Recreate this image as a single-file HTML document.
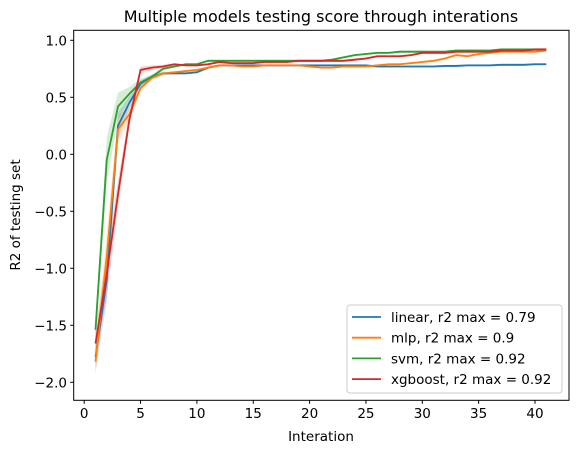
<!DOCTYPE html>
<html><head><meta charset="utf-8"><style>
body{margin:0;background:#fff}
svg text{font-family:"DejaVu Sans","Liberation Sans",sans-serif;fill:#000}
</style></head><body>
<svg width="579" height="453" xmlns="http://www.w3.org/2000/svg">
<text x="321" y="22" text-anchor="middle" font-size="16">Multiple models testing score through interations</text>
<g id="plot"></g>
<rect x="73.7" y="30.3" width="495.3" height="370" fill="none" stroke="#000" stroke-width="1"/>
<g id="xt"></g><g id="yt"></g>
<text x="321" y="441" text-anchor="middle" font-size="13.5">Interation</text>
<text transform="translate(20,215) rotate(-90)" text-anchor="middle" font-size="13.5">R2 of testing set</text>
<g id="legend">
<rect x="347" y="305" width="215" height="88" rx="3" fill="#fff" fill-opacity="0.8" stroke="#ccc"/>
</g>
</svg>
<script>
const xs=[1,2,3,4,5,6,7,8,9,10,11,12,13,14,15,16,17,18,19,20,21,22,23,24,25,26,27,28,29,30,31,32,33,34,35,36,37,38,39,40,41];
const linear=[-1.78,-1.1,0.25,0.45,0.62,0.68,0.71,0.71,0.71,0.72,0.76,0.78,0.78,0.78,0.78,0.78,0.78,0.78,0.78,0.78,0.78,0.78,0.78,0.78,0.78,0.77,0.77,0.77,0.77,0.77,0.77,0.775,0.775,0.78,0.78,0.78,0.785,0.785,0.785,0.79,0.79];
const mlp=[-1.82,-0.9,0.22,0.35,0.58,0.67,0.71,0.72,0.73,0.74,0.76,0.78,0.78,0.77,0.77,0.78,0.78,0.78,0.78,0.77,0.76,0.76,0.77,0.77,0.77,0.78,0.79,0.79,0.8,0.81,0.82,0.84,0.87,0.86,0.88,0.89,0.9,0.9,0.9,0.9,0.91];
const svm=[-1.54,-0.05,0.42,0.53,0.63,0.68,0.75,0.77,0.79,0.79,0.82,0.82,0.82,0.82,0.82,0.82,0.82,0.82,0.82,0.82,0.82,0.83,0.85,0.87,0.88,0.89,0.89,0.9,0.9,0.9,0.9,0.9,0.91,0.91,0.91,0.91,0.92,0.92,0.92,0.92,0.92];
const xgb=[-1.66,-1.05,-0.35,0.3,0.74,0.76,0.77,0.79,0.78,0.78,0.79,0.81,0.8,0.8,0.8,0.81,0.81,0.81,0.82,0.82,0.82,0.82,0.82,0.83,0.84,0.86,0.86,0.86,0.87,0.89,0.89,0.89,0.9,0.9,0.9,0.9,0.91,0.91,0.91,0.92,0.92];
const spread=[0.12,0.2,0.12,0.06,0.03,0.02,0.015,0.01,0.01,0.01,0.01,0.01,0.01,0.01,0.01,0.01,0.01,0.01,0.01,0.01,0.01,0.01,0.01,0.01,0.01,0.01,0.01,0.01,0.01,0.01,0.01,0.01,0.01,0.01,0.01,0.01,0.01,0.01,0.01,0.01,0.01];
const xTicks=[0,5,10,15,20,25,30,35,40];
const yTicks=[1.0,0.5,0.0,-0.5,-1.0,-1.5,-2.0];
const yTickLabels=["1.0","0.5","0.0","−0.5","−1.0","−1.5","−2.0"];
const names=["linear, r2 max = 0.79","mlp, r2 max = 0.9","svm, r2 max = 0.92","xgboost, r2 max = 0.92"];
const colors=["#1f77b4","#ff7f0e","#2ca02c","#d62728"];
const NS="http://www.w3.org/2000/svg";
const X=v=>84.2+v*11.27, Y=v=>154.3-v*114;
function mk(t,a,p){const e=document.createElementNS(NS,t);for(const k in a)e.setAttribute(k,a[k]);p.appendChild(e);return e;}
const plot=document.getElementById('plot');
[linear,mlp,svm,xgb].forEach((s,i)=>{
  let up=xs.map((x,j)=>X(x)+','+Y(s[j]+spread[j])).join(' ');
  let dn=xs.map((x,j)=>X(x)+','+Y(s[j]-spread[j])).reverse().join(' ');
  const b=mk('polygon',{points:up+' '+dn,fill:colors[i],'fill-opacity':0.2,stroke:'none'},plot);
  
  
});
[linear,mlp,svm,xgb].forEach((s,i)=>{
  const l=mk('polyline',{points:xs.map((x,j)=>X(x)+','+Y(s[j])).join(' '),fill:'none',stroke:colors[i],'stroke-width':1.8},plot);
  
  
});
const xt=document.getElementById('xt');
xTicks.forEach(t=>{
  mk('line',{x1:X(t),x2:X(t),y1:400.3,y2:403.8,stroke:'#000'},xt);
  const e=mk('text',{x:X(t),y:418,'text-anchor':'middle','font-size':13.5},xt);e.textContent=t;
  
  
});
const yt=document.getElementById('yt');
yTicks.forEach((t,i)=>{
  mk('line',{x1:70.2,x2:73.7,y1:Y(t),y2:Y(t),stroke:'#000'},yt);
  const e=mk('text',{x:67,y:Y(t)+5,'text-anchor':'end','font-size':13.5},yt);e.textContent=yTickLabels[i];
  
  
});
const lg=document.getElementById('legend');
names.forEach((n,i)=>{
  const y=317+i*20.7;
  mk('line',{x1:352,x2:381,y1:y,y2:y,stroke:colors[i],'stroke-width':1.8},lg);
  const e=mk('text',{x:391,y:y+5,'font-size':13.5},lg);e.textContent=n;
  
  
});
</script>
</body></html>
